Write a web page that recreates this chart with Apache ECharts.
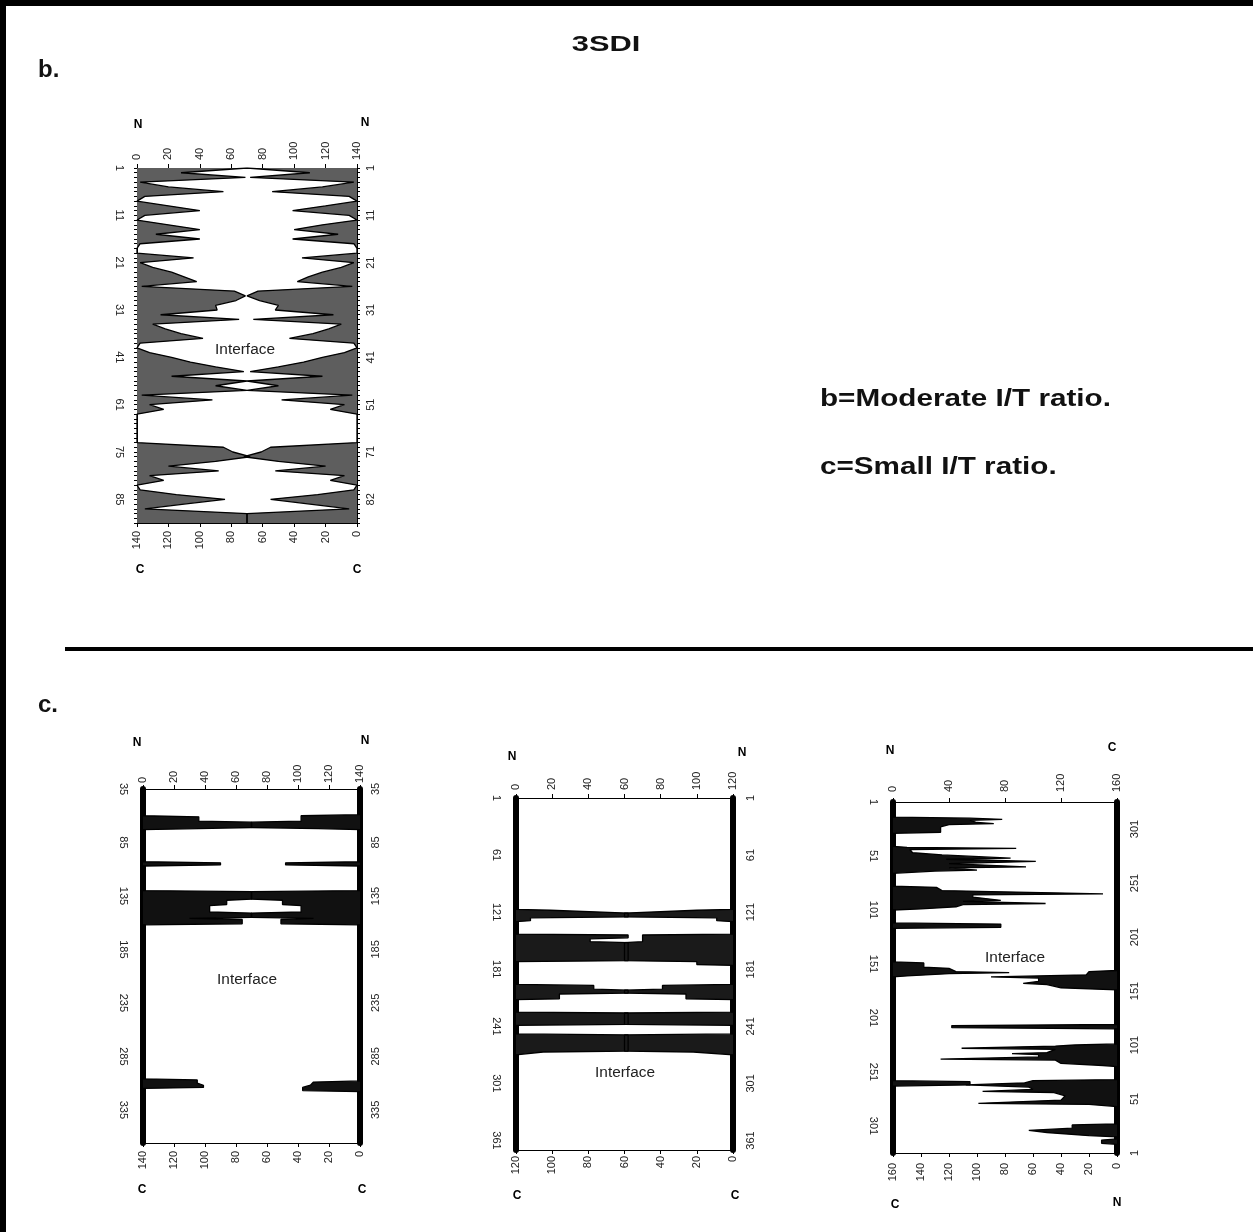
<!DOCTYPE html>
<html>
<head>
<meta charset="utf-8">
<script src="https://cdn.jsdelivr.net/npm/echarts@6/dist/echarts.min.js"></script>
<style>
  html, body { margin: 0; padding: 0; background: #fff; }
  #chart { width: 1253px; height: 1232px; }
</style>
</head>
<body>
<div id="chart"></div>
<script>
// ---- panel b (moderate I/T ratio), one value per residue row ----
const bLeftTicks = ['1', '11', '21', '31', '41', '61', '75', '85']
const bRightTicks = ['1', '11', '21', '31', '41', '51', '71', '82']
const bLeft = [70, 28, 69, 2, 20, 55, 5, 0, 20, 40, 5, 0, 20, 40, 12, 40, 2, 0, 0, 36,
  2, 10, 22, 30, 38, 3, 62, 69, 63, 50, 51, 15, 65, 10, 18, 28, 42, 2, 0, 8,
  22, 34, 50, 68, 22, 70, 50, 70, 3, 48, 8, 17, 0, 0, 0, 0, 0, 0, 0, 55,
  61, 72, 50, 20, 52, 8, 17, 0, 2, 25, 56, 30, 5, 70, 70, 70]
const bRight = [70, 30, 68, 2, 22, 54, 5, 0, 20, 41, 5, 0, 22, 40, 12, 41, 2, 0, 0, 35,
  2, 10, 22, 31, 38, 3, 63, 70, 62, 50, 52, 15, 66, 10, 18, 28, 43, 2, 0, 8,
  22, 34, 50, 68, 22, 70, 50, 70, 3, 48, 8, 17, 0, 0, 0, 0, 0, 0, 0, 55,
  61, 72, 50, 20, 52, 8, 17, 0, 2, 25, 55, 30, 5, 70, 70, 70]

// ---- panel c (small I/T ratio), [residue, contacts] vertices ----
const c1Ticks = ['35', '85', '135', '185', '235', '285', '335']
const c1Left = [[35, 0], [60, 0], [61, 36], [65, 36], [66, 70], [71, 70], [72, 36], [73, 0],
  [103, 0], [104, 50], [106, 50], [107, 0],
  [130, 0], [131, 70], [138, 70], [139, 54], [143, 54], [144, 43], [150, 43], [151, 70],
  [155, 70], [156, 30], [157, 64], [161, 64], [162, 0],
  [306, 0], [307, 35], [310, 35], [312, 39], [314, 39], [315, 0], [366, 0]]
const c1Right = [[35, 0], [59, 0], [60, 38], [65, 38], [66, 70], [71, 70], [72, 27], [73, 0],
  [103, 0], [104, 48], [106, 48], [107, 0],
  [130, 0], [131, 70], [138, 70], [139, 50], [143, 50], [144, 38], [150, 38], [151, 70],
  [155, 70], [156, 30], [157, 51], [161, 51], [162, 0],
  [308, 0], [309, 30], [312, 32], [314, 37], [317, 37], [318, 0], [366, 0]]

const c2Ticks = ['1', '61', '121', '181', '241', '301', '361']
const c2Left = [[1, 0], [118, 0], [119, 19], [121, 19], [122, 62], [126, 62], [127, 8], [130, 8], [131, 0],
  [144, 0], [145, 62], [148, 62], [149, 41], [152, 41], [153, 62], [172, 62], [173, 0],
  [197, 0], [198, 43], [202, 43], [203, 62], [206, 62], [207, 24], [212, 24], [213, 0],
  [226, 0], [227, 62], [239, 62], [240, 0],
  [249, 0], [250, 62], [267, 62], [268, 15], [270, 15], [271, 0], [371, 0]]
const c2Right = [[1, 0], [118, 0], [119, 20], [121, 20], [122, 60], [126, 60], [127, 9], [130, 9], [131, 0],
  [144, 0], [145, 50], [152, 50], [153, 60], [172, 60], [173, 20], [176, 20], [177, 0],
  [197, 0], [198, 39], [202, 39], [203, 60], [206, 60], [207, 26], [212, 26], [213, 0],
  [226, 0], [227, 60], [239, 60], [240, 0],
  [249, 0], [250, 60], [267, 60], [268, 22], [270, 22], [271, 0], [371, 0]]

const c3LeftTicks = ['1', '51', '101', '151', '201', '251', '301']
const c3RightTicks = ['1', '51', '101', '151', '201', '251', '301']
const c3Left = [[1, 0], [15, 0], [16, 55], [17, 78], [18, 55], [20, 60], [21, 72], [22, 40], [24, 34], [29, 34], [30, 0],
  [42, 0], [43, 10], [44, 88], [45, 12], [48, 14], [50, 35], [53, 84], [54, 38], [56, 102], [58, 40],
  [61, 95], [62, 40], [64, 60], [65, 30], [67, 0],
  [79, 0], [80, 31], [83, 35], [86, 150], [87, 57], [89, 57], [92, 77], [93, 50], [95, 109], [96, 50],
  [98, 45], [100, 20], [101, 0],
  [113, 0], [114, 77], [117, 77], [118, 0],
  [149, 0], [150, 22], [154, 22], [155, 40], [158, 45], [159, 83], [160, 40], [162, 10], [163, 0],
  [259, 0], [260, 55], [263, 55], [264, 0], [326, 0]]
const c3Right = [[1, 0], [9, 0], [10, 11], [13, 11], [14, 0],
  [16, 0], [17, 20], [20, 50], [22, 63], [24, 32], [27, 32], [28, 0],
  [44, 0], [46, 20], [47, 99], [50, 40], [54, 37], [57, 45], [58, 96], [60, 60], [62, 63], [64, 108],
  [66, 66], [68, 60], [69, 0],
  [81, 0], [82, 10], [84, 40], [87, 44], [88, 126], [90, 56], [92, 56], [93, 75], [94, 50], [97, 44],
  [98, 111], [100, 44], [101, 30], [102, 0],
  [116, 0], [117, 118], [119, 118], [120, 0],
  [152, 0], [154, 40], [157, 50], [158, 67], [160, 56], [163, 56], [164, 90], [166, 22], [169, 20], [170, 0],
  [326, 0]]

const FONT = 'Arial, "Liberation Sans", sans-serif'

// 面板布局
const panels = [
  { box: { left: 137, top: 168, width: 220, height: 355 }, xMax: 140, topStep: 20, botStep: 20,
    rows: 76, yStep: 10, leftTicks: bLeftTicks, rightTicks: bRightTicks,
    rightInverse: true, thick: 1, rowTicks: true, lm: 12, rm: 8, tm: 8, bm: 8 },
  { box: { left: 143, top: 789, width: 217, height: 354 }, xMax: 140, topStep: 20, botStep: 20,
    rows: 332, yStep: 50, leftTicks: c1Ticks, rightTicks: c1Ticks,
    rightInverse: true, thick: 6, rowTicks: false, lm: 14, rm: 10, tm: 6, bm: 8 },
  { box: { left: 516, top: 798, width: 217, height: 352 }, xMax: 120, topStep: 20, botStep: 20,
    rows: 371, yStep: 60, leftTicks: c2Ticks, rightTicks: c2Ticks,
    rightInverse: true, thick: 6, rowTicks: false, lm: 14, rm: 12, tm: 8, bm: 6 },
  { box: { left: 893, top: 802, width: 224, height: 351 }, xMax: 160, topStep: 40, botStep: 20,
    rows: 326, yStep: 50, leftTicks: c3LeftTicks, rightTicks: c3RightTicks,
    rightInverse: false, thick: 6, rowTicks: false, lm: 14, rm: 12, tm: 10, bm: 10 }
]

const grid = []
const xAxis = []
const yAxis = []
const series = []

const labelStyle = { color: '#222', fontSize: 11, fontFamily: FONT }

panels.forEach((p, g) => {
  grid.push(Object.assign({ containLabel: false, outerBoundsMode: 'none' }, p.box))
  const cats = []
  for (let i = 0; i < p.rows; i++) cats.push(String(i))

  // top (N) and bottom (C, reversed) value axes
  xAxis.push({
    gridIndex: g, type: 'value', position: 'top', min: 0, max: p.xMax, interval: p.topStep,
    axisLine: { show: true, onZero: false, lineStyle: { color: '#000', width: 1 } },
    axisTick: { show: true, length: 4, lineStyle: { color: '#000' } },
    splitLine: { show: false },
    axisLabel: Object.assign({ rotate: -90, margin: p.tm, showMinLabel: true, showMaxLabel: true }, labelStyle)
  })
  xAxis.push({
    gridIndex: g, type: 'value', position: 'bottom', inverse: true, min: 0, max: p.xMax, interval: p.botStep,
    axisLine: { show: true, onZero: false, lineStyle: { color: '#000', width: 1 } },
    axisTick: { show: true, length: 4, lineStyle: { color: '#000' } },
    splitLine: { show: false },
    axisLabel: Object.assign({ rotate: 90, margin: p.bm, showMinLabel: true, showMaxLabel: true }, labelStyle)
  })

  const yCommon = {
    gridIndex: g, type: 'category', data: cats, boundaryGap: false,
    axisLine: { show: true, onZero: false, lineStyle: { color: '#000', width: p.thick } },
    axisTick: { show: p.rowTicks, interval: 0, length: 3, lineStyle: { color: '#000', width: 1 } },
    splitLine: { show: false }
  }
  yAxis.push(Object.assign({}, yCommon, {
    position: 'left', inverse: true,
    axisLabel: Object.assign({
      rotate: -90, margin: p.lm, interval: p.yStep - 1,
      formatter: (v, i) => p.leftTicks[Math.round(i / p.yStep)] || ''
    }, labelStyle)
  }))
  yAxis.push(Object.assign({}, yCommon, {
    position: 'right', inverse: p.rightInverse,
    axisLabel: Object.assign({
      rotate: 90, margin: p.rm, interval: p.yStep - 1,
      formatter: (v, i) => p.rightTicks[Math.round(i / p.yStep)] || ''
    }, labelStyle)
  }))
})

function profile (data, g, side, fill) {
  return {
    type: 'line',
    xAxisIndex: g * 2 + (side === 'left' ? 0 : 1),
    yAxisIndex: g * 2 + (side === 'left' ? 0 : 1),
    data: data,
    symbol: 'none',
    silent: true,
    animation: false,
    lineStyle: { color: '#000', width: 1.3 },
    areaStyle: { color: fill, opacity: 1 }
  }
}

const toRows = arr => arr.map((v, i) => [v, i])
const toIdx = (arr, start) => arr.map(d => [d[1], d[0] - start])

series.push(profile(toRows(bLeft), 0, 'left', '#5e5e5e'))
series.push(profile(toRows(bRight), 0, 'right', '#5e5e5e'))
series.push(profile(toIdx(c1Left, 35), 1, 'left', '#111'))
series.push(profile(toIdx(c1Right, 35), 1, 'right', '#111'))
series.push(profile(toIdx(c2Left, 1), 2, 'left', '#1a1a1a'))
series.push(profile(toIdx(c2Right, 1), 2, 'right', '#1a1a1a'))
series.push(profile(toIdx(c3Left, 1), 3, 'left', '#111'))
series.push(profile(toIdx(c3Right, 1), 3, 'right', '#111'))

// the scanned figure is stretched sideways, so texts get a scaleX
function txt (text, x, y, size, weight, align, color, sx) {
  return {
    type: 'text', x: x, y: y, scaleX: sx || 1, silent: true, z: 100,
    style: {
      text: text, fontSize: size, fontWeight: weight || 'normal', fontFamily: FONT,
      fill: color || '#000', align: align || 'center', verticalAlign: 'middle'
    }
  }
}

const graphic = [
  // frame and divider
  { type: 'line', shape: { x1: 0, y1: 3, x2: 1253, y2: 3 }, style: { stroke: '#000', lineWidth: 6 } },
  { type: 'line', shape: { x1: 3, y1: 0, x2: 3, y2: 1232 }, style: { stroke: '#000', lineWidth: 6 } },
  { type: 'line', shape: { x1: 65, y1: 649, x2: 1253, y2: 649 }, style: { stroke: '#000', lineWidth: 4 } },
  txt('3SDI', 606, 45, 22, 'bold', 'center', '#111', 1.4),
  txt('b.', 38, 70, 24, 'bold', 'left', '#111'),
  txt('c.', 38, 705, 24, 'bold', 'left', '#111'),
  txt('b=Moderate I/T ratio.', 820, 400, 23, 'bold', 'left', '#111', 1.29),
  txt('c=Small I/T ratio.', 820, 468, 23, 'bold', 'left', '#111', 1.29),
  // N / C end labels
  txt('N', 138, 125, 12, 'bold'), txt('N', 365, 123, 12, 'bold'),
  txt('C', 140, 570, 12, 'bold'), txt('C', 357, 570, 12, 'bold'),
  txt('N', 137, 743, 12, 'bold'), txt('N', 365, 741, 12, 'bold'),
  txt('C', 142, 1190, 12, 'bold'), txt('C', 362, 1190, 12, 'bold'),
  txt('N', 512, 757, 12, 'bold'), txt('N', 742, 753, 12, 'bold'),
  txt('C', 517, 1196, 12, 'bold'), txt('C', 735, 1196, 12, 'bold'),
  txt('N', 890, 751, 12, 'bold'), txt('C', 1112, 748, 12, 'bold'),
  txt('C', 895, 1205, 12, 'bold'), txt('N', 1117, 1203, 12, 'bold'),
  // interface markers
  txt('Interface', 245, 350, 14, 'normal', 'center', '#222', 1.1),
  txt('Interface', 247, 980, 14, 'normal', 'center', '#222', 1.1),
  txt('Interface', 625, 1073, 14, 'normal', 'center', '#222', 1.1),
  txt('Interface', 1015, 958, 14, 'normal', 'center', '#222', 1.1)
]

const chart = echarts.init(document.getElementById('chart'))
chart.setOption({
  backgroundColor: '#fff',
  animation: false,
  grid: grid,
  xAxis: xAxis,
  yAxis: yAxis,
  series: series,
  graphic: graphic
})
window.addEventListener('resize', () => chart.resize())
</script>
</body>
</html>
